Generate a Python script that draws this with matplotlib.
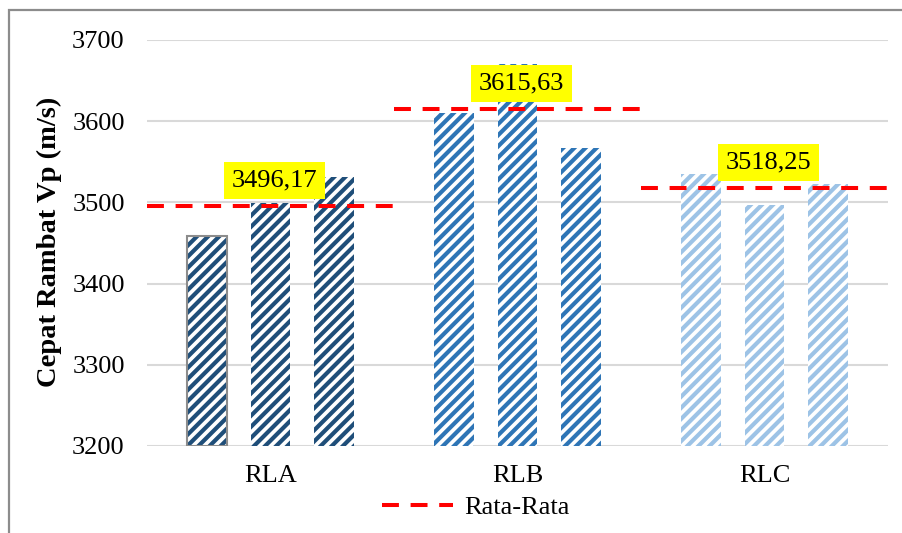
import matplotlib
matplotlib.use("Agg")
import matplotlib.pyplot as plt
from matplotlib.patches import Rectangle
from matplotlib.lines import Line2D

plt.rcParams['font.family'] = ['Liberation Serif', 'DejaVu Serif']
plt.rcParams['hatch.linewidth'] = 3.0

# Data
categories = ['RLA', 'RLB', 'RLC']
sample_1 = [3458.5, 3610, 3535]
sample_2 = [3499, 3670, 3497]
sample_3 = [3531, 3567, 3523]
averages = [3496.17, 3615.63, 3518.25]
average_labels = ['3496,17', '3615,63', '3518,25']
y_ticks = [3200, 3300, 3400, 3500, 3600, 3700]
group_colors = ['#1F4E79', '#2E75B6', '#9DC3E6']

fig = plt.figure(figsize=(9.03, 5.33), dpi=100)
ax = fig.add_axes([147 / 903, 1 - 446 / 533, 741 / 903, 406 / 533])

# outer chart border
fig.patches.append(Rectangle((8.5 / 903, -0.1), 1.2, 1 - 10.5 / 533 + 0.1,
                             transform=fig.transFigure, fill=False,
                             edgecolor='#8C8C8C', linewidth=1.6, zorder=0))

pitch = 0.256
width = 0.161
series = [sample_1, sample_2, sample_3]
for i, cat in enumerate(categories):
    for j, s in enumerate(series):
        x = i + (j - 1) * pitch
        ax.bar(x, s[i] - 3200, bottom=3200, width=width, facecolor='white',
               edgecolor=group_colors[i], hatch='///', linewidth=0, zorder=2)

# outline on the first RLA bar
ax.bar(0 - pitch, sample_1[0] - 3200, bottom=3200, width=width, fill=False,
       edgecolor='#8C8C8C', linewidth=1.5, zorder=3)

# average lines and labels
for i, (m, lab) in enumerate(zip(averages, average_labels)):
    ax.plot([i - 0.5, i + 0.5], [m, m], color='#FF0000', linewidth=2.9,
            dashes=(4.2, 2.9), zorder=4)
    ax.annotate(lab, xy=(i, m), xytext=(3, 18), textcoords='offset points',
                ha='center', va='center', fontsize=19, color='black', zorder=5,
                bbox=dict(boxstyle='square,pad=0.3', facecolor='#FFFF00',
                          edgecolor='none'))

ax.set_xlim(-0.5, 2.5)
ax.set_ylim(3200, 3700)
ax.set_yticks(y_ticks)
ax.set_yticklabels([str(t) for t in y_ticks])
ax.set_xticks(range(len(categories)))
ax.set_xticklabels(categories)
ax.tick_params(axis='both', length=0, labelsize=19, colors='black')
ax.tick_params(axis='y', pad=16)
ax.tick_params(axis='x', pad=14)
ax.grid(axis='y', color='#D9D9D9', linewidth=1.5, zorder=0)
ax.set_axisbelow(True)
for sp in ax.spines.values():
    sp.set_visible(False)

fig.text(49 / 903, 1 - 242 / 533, 'Cepat Rambat Vp (m/s)', rotation=90,
         ha='center', va='center', fontsize=20.5, fontweight='bold')

handle = Line2D([], [], color='#FF0000', linewidth=2.9, dashes=(4.2, 2.9))
fig.legend([handle], ['Rata-Rata'], loc='center',
           bbox_to_anchor=(476 / 903, 1 - 507 / 533), frameon=False,
           fontsize=19, handlelength=2.7, handletextpad=0.42,
           borderpad=0, borderaxespad=0)

fig.savefig('out.png', dpi=100)
